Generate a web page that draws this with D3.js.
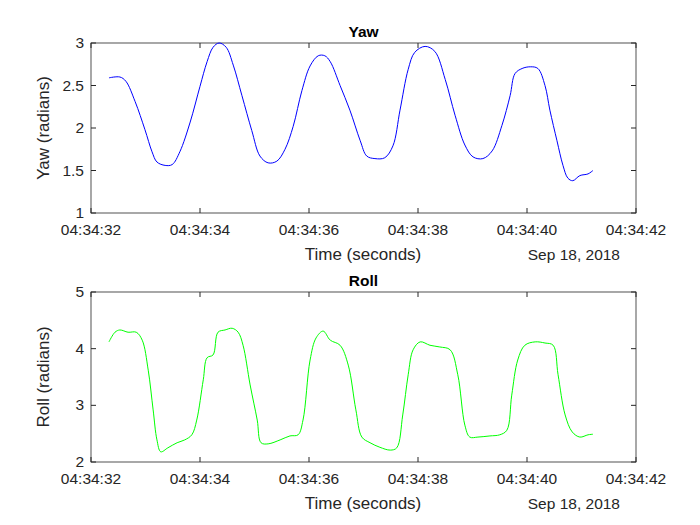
<!DOCTYPE html>
<html><head><meta charset="utf-8">
<script src="https://cdn.jsdelivr.net/npm/d3@7"></script>
<style>body{margin:0;background:#fff}svg{font-family:"Liberation Sans",Arial,sans-serif}</style>
</head><body><svg id="c" width="700" height="525"></svg>
<script>
// seconds after 04:34:32
var yawT = [0.33,0.53,0.64,0.81,0.99,1.12,1.21,1.36,1.49,1.63,1.82,2.00,2.13,2.24,2.35,2.48,2.61,2.77,2.95,3.10,3.25,3.41,3.56,3.71,3.87,4.02,4.17,4.29,4.39,4.57,4.75,4.94,5.06,5.21,5.39,5.54,5.67,5.82,5.94,6.13,6.31,6.50,6.68,6.86,7.01,7.19,7.36,7.54,7.69,7.78,7.91,8.06,8.20,8.33,8.42,8.55,8.66,8.75,8.84,8.97,9.12,9.21];
var yawV = [2.59,2.60,2.55,2.31,1.98,1.72,1.60,1.56,1.57,1.72,2.07,2.49,2.78,2.95,3.00,2.95,2.74,2.38,1.97,1.67,1.59,1.61,1.75,2.02,2.44,2.73,2.85,2.85,2.78,2.50,2.21,1.85,1.67,1.64,1.65,1.79,2.21,2.69,2.89,2.96,2.90,2.57,2.15,1.80,1.66,1.64,1.73,2.03,2.38,2.64,2.70,2.72,2.70,2.50,2.21,1.85,1.56,1.41,1.38,1.44,1.46,1.50];
var rollT = [0.33,0.44,0.53,0.68,0.83,0.94,1.05,1.14,1.21,1.28,1.41,1.58,1.72,1.85,1.94,2.06,2.13,2.24,2.33,2.46,2.59,2.70,2.79,2.92,3.05,3.12,3.25,3.47,3.65,3.80,3.89,4.02,4.13,4.26,4.39,4.57,4.72,4.86,4.97,5.12,5.30,5.49,5.61,5.72,5.82,5.91,6.04,6.22,6.40,6.59,6.73,6.86,6.95,7.10,7.32,7.50,7.63,7.72,7.83,7.96,8.15,8.33,8.48,8.57,8.70,8.83,8.97,9.12,9.21];
var rollV = [4.12,4.29,4.33,4.29,4.29,4.15,3.62,2.92,2.39,2.18,2.25,2.34,2.39,2.48,2.74,3.45,3.84,3.89,4.29,4.33,4.36,4.29,4.06,3.36,2.74,2.34,2.32,2.39,2.46,2.48,2.74,3.80,4.19,4.31,4.15,4.06,3.71,2.92,2.44,2.34,2.26,2.21,2.25,2.83,3.54,3.98,4.12,4.06,4.03,3.98,3.54,2.65,2.44,2.44,2.46,2.48,2.56,3.18,3.80,4.06,4.12,4.10,4.06,3.54,2.83,2.53,2.44,2.48,2.49];
var xTickLabels = ["04:34:32","04:34:34","04:34:36","04:34:38","04:34:40","04:34:42"];

var svg = d3.select("#c");

function panel(top, title, ylab, T, V, ydom, yticks, color) {
    var L = 91, R = 636, B = top + 170;
    var x = d3.scaleLinear().domain([0, 10]).range([L, R]);
    var y = d3.scaleLinear().domain(ydom).range([B, top]);
    var g = svg.append("g");
    g.append("rect").attr("x", L).attr("y", top).attr("width", R - L).attr("height", B - top)
        .attr("fill", "#fff").attr("stroke", "#262626").attr("stroke-width", 0.8);
    var xt = [0, 2, 4, 6, 8, 10];
    xt.forEach(function (t, i) {
        g.append("line").attr("x1", x(t)).attr("x2", x(t)).attr("y1", B).attr("y2", B - 5).attr("stroke", "#262626");
        g.append("line").attr("x1", x(t)).attr("x2", x(t)).attr("y1", top).attr("y2", top + 5).attr("stroke", "#262626");
        g.append("text").attr("x", x(t)).attr("y", B + 22).attr("text-anchor", "middle")
            .attr("font-size", 15.5).attr("fill", "#262626").text(xTickLabels[i]);
    });
    yticks.forEach(function (v) {
        g.append("line").attr("x1", L).attr("x2", L + 5).attr("y1", y(v)).attr("y2", y(v)).attr("stroke", "#262626");
        g.append("line").attr("x1", R).attr("x2", R - 5).attr("y1", y(v)).attr("y2", y(v)).attr("stroke", "#262626");
        g.append("text").attr("x", L - 7).attr("y", y(v) + 5).attr("text-anchor", "end")
            .attr("font-size", 15.5).attr("fill", "#262626").text(v);
    });
    var pts = T.map(function (t, i) { return [t, V[i]]; });
    g.append("path").datum(pts)
        .attr("d", d3.line().x(function (d) { return x(d[0]); }).y(function (d) { return y(d[1]); }).curve(d3.curveCatmullRom))
        .attr("fill", "none").attr("stroke", color).attr("stroke-width", 1);
    g.append("text").attr("x", (L + R) / 2).attr("y", top - 6).attr("text-anchor", "middle")
        .attr("font-size", 15.5).attr("font-weight", "bold").attr("fill", "#000").text(title);
    g.append("text").attr("x", 363).attr("y", B + 47).attr("text-anchor", "middle")
        .attr("font-size", 17).attr("fill", "#262626").text("Time (seconds)");
    g.append("text").attr("x", 620).attr("y", B + 47).attr("text-anchor", "end")
        .attr("font-size", 15.5).attr("fill", "#262626").text("Sep 18, 2018");
    g.append("text").attr("transform", "translate(49," + ((top + B) / 2) + ") rotate(-90)")
        .attr("text-anchor", "middle").attr("font-size", 17).attr("fill", "#262626").text(ylab);
}

panel(43, "Yaw", "Yaw (radians)", yawT, yawV, [1, 3], [1, 1.5, 2, 2.5, 3], "#0000ff");
panel(292, "Roll", "Roll (radians)", rollT, rollV, [2, 5], [2, 3, 4, 5], "#00ff00");
</script></body></html>
